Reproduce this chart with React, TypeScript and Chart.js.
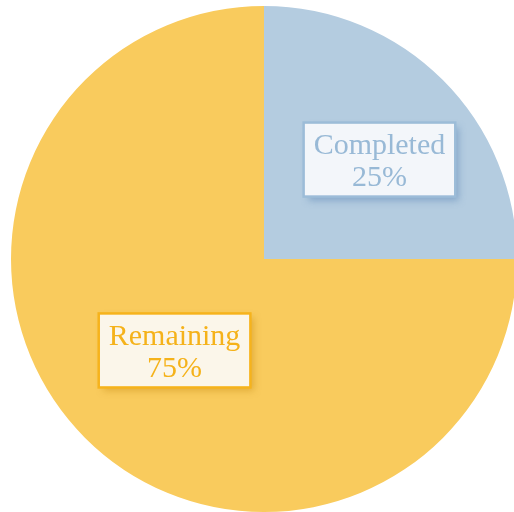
import React, { useEffect, useRef } from "react";
import { Chart, registerables } from "chart.js";

Chart.register(...registerables);

const categories = ["Completed", "Remaining"];
const values = [25, 75];
const sliceColors = ["#b4cce0", "#f9cb5d"];
const labelTextColors = ["#98b9d6", "#f5b21a"];
const labelBgColors = ["#f3f6fa", "#fbf6ea"];
const labelBorderColors = ["#9cbcd8", "#f6b31c"];
const labelShadowColors = ["rgba(100,140,185,0.6)", "rgba(200,140,20,0.5)"];
const labelOffsets = [
  [26, -10],
  [0, 2],
];

const labelPlugin = {
  id: "boxLabels",
  afterDatasetsDraw(chart: any) {
    const ctx = chart.ctx;
    const meta = chart.getDatasetMeta(0);
    const total = values.reduce((a, b) => a + b, 0);
    ctx.save();
    ctx.font = "30px 'Liberation Serif', 'Times New Roman', serif";
    ctx.textAlign = "center";
    ctx.textBaseline = "middle";
    meta.data.forEach((arc: any, i: number) => {
      const p = arc.tooltipPosition();
      const cx = p.x + labelOffsets[i][0];
      const cy = p.y + labelOffsets[i][1];
      const line1 = categories[i];
      const line2 = Math.round((values[i] / total) * 100) + "%";
      const w = Math.max(ctx.measureText(line1).width, ctx.measureText(line2).width) + 20;
      const h = 74;
      const x = cx - w / 2;
      const y = cy - h / 2;
      ctx.save();
      ctx.shadowColor = labelShadowColors[i];
      ctx.shadowBlur = 7;
      ctx.shadowOffsetX = 4;
      ctx.shadowOffsetY = 4;
      ctx.fillStyle = labelBgColors[i];
      ctx.fillRect(x, y, w, h);
      ctx.restore();
      ctx.lineWidth = 2.5;
      ctx.strokeStyle = labelBorderColors[i];
      ctx.strokeRect(x, y, w, h);
      ctx.fillStyle = labelTextColors[i];
      ctx.fillText(line1, cx, cy - 13);
      ctx.fillText(line2, cx, cy + 19);
    });
    ctx.restore();
  },
};

export default function App() {
  const ref = useRef<HTMLCanvasElement | null>(null);
  useEffect(() => {
    document.body.style.margin = "0";
    document.body.style.overflow = "hidden";
    const chart = new Chart(ref.current as HTMLCanvasElement, {
      type: "pie",
      data: {
        labels: categories,
        datasets: [
          {
            data: values,
            backgroundColor: sliceColors,
            borderWidth: 0,
          },
        ],
      },
      options: {
        animation: false,
        responsive: false,
        maintainAspectRatio: false,
        layout: { padding: 0 },
        plugins: {
          legend: { display: false },
          tooltip: { enabled: false },
        },
      },
      plugins: [labelPlugin],
    });
    return () => chart.destroy();
  }, []);
  return (
    <div style={{ position: "relative", width: 514, height: 512, overflow: "hidden" }}>
      <canvas
        ref={ref}
        width={506}
        height={506}
        style={{ position: "absolute", left: 11, top: 6, width: 506, height: 506 }}
      />
    </div>
  );
}
